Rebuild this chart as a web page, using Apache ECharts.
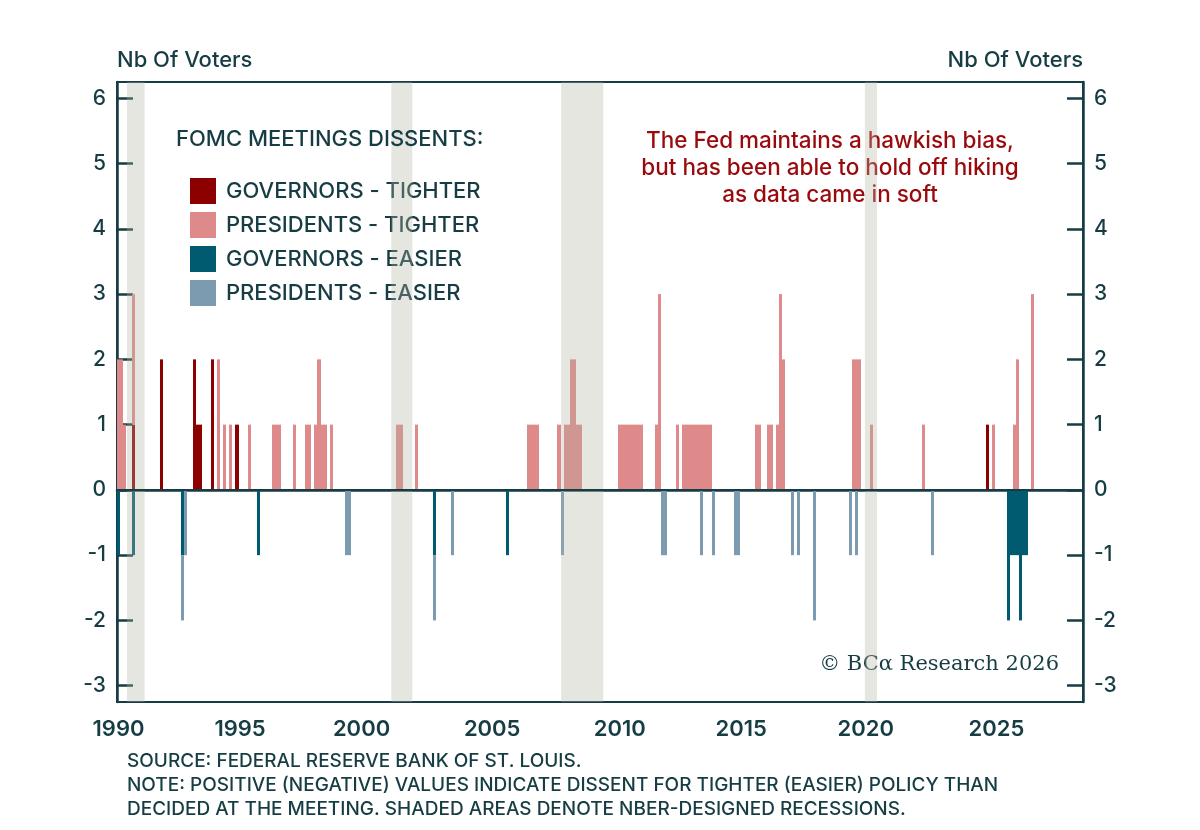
<!DOCTYPE html>
<html>
<head>
<meta charset="utf-8">
<script src="https://cdn.jsdelivr.net/npm/echarts@6/dist/echarts.min.js"></script>
<style>
  html, body { margin: 0; padding: 0; background: #fff; }
  #chart { width: 1200px; height: 830px; }
</style>
</head>
<body>
<div id="chart"></div>
<script>
// FOMC meeting slots per calendar year, 1990..2028 (x axis = one slot per meeting)
const firstYear = 1990;
const meetingsPerYear = [8, 8, 8, 8, 8, 8, 8, 8, 8, 8, 8, 11, 8, 8, 8, 8, 8, 8, 10, 8,
  8, 8, 8, 8, 8, 8, 8, 8, 8, 9, 11, 8, 8, 8, 8, 8, 8, 8, 5];

// dissents per meeting: [meeting slot, number of voters]
const govTighter = [[5, 1], [14, 2], [25, 2], [26, 1], [27, 1], [31, 2], [39, 1], [286, 1]];
const presTighter = [[0, 2], [1, 2], [2, 1], [5, 2], [33, 2], [35, 1], [37, 1], [43, 1],
  [51, 1], [52, 1], [53, 1], [58, 1], [62, 1], [63, 1], [65, 1], [66, 2], [67, 1], [68, 1],
  [70, 1], [92, 1], [93, 1], [98, 1], [135, 1], [136, 1], [137, 1], [138, 1], [145, 1],
  [147, 1], [148, 1], [149, 2], [150, 2], [151, 1], [152, 1],
  [165, 1], [166, 1], [167, 1], [168, 1], [169, 1], [170, 1], [171, 1], [172, 1],
  [177, 1], [178, 3], [184, 1],
  [186, 1], [187, 1], [188, 1], [189, 1], [190, 1], [191, 1], [192, 1], [193, 1], [194, 1], [195, 1],
  [210, 1], [211, 1], [214, 1], [215, 1], [217, 1], [218, 3], [219, 2],
  [242, 2], [243, 2], [244, 2], [248, 1], [265, 1], [288, 1], [295, 1], [296, 2], [301, 3]];
const govEasier = [[0, -1], [5, -1], [21, -1], [46, -1], [104, -1], [128, -1],
  [293, -2], [294, -1], [295, -1], [296, -1], [297, -2], [298, -1], [299, -1]];
const presEasier = [[21, -1], [22, -1], [75, -1], [76, -1], [104, -1], [110, -1], [146, -1],
  [179, -1], [180, -1], [192, -1], [196, -1], [203, -1], [204, -1], [222, -1], [224, -1],
  [229, -2], [241, -1], [243, -1], [268, -1]];

// NBER recessions, in meeting-slot units [start, end]
const recessions = [[3.3, 9.1], [90.3, 97.2], [146.2, 160.1], [246.2, 250.2]];

const yTicks = [-3, -2, -1, 0, 1, 2, 3, 4, 5, 6];
const seriesNames = ['GOVERNORS - TIGHTER', 'PRESIDENTS - TIGHTER', 'GOVERNORS - EASIER', 'PRESIDENTS - EASIER'];
const seriesColors = ['#8c0000', '#de8a8b', '#005a70', '#7d9bb0'];

const ink = '#173d44';
const font = 'Inter, "Open Sans", sans-serif';
const yMin = -3.25, yMax = 6.25;

const meetings = [];
meetingsPerYear.forEach((n, i) => {
  for (let k = 1; k <= n; k++) meetings.push((firstYear + i) + '-' + k);
});
const nSlots = meetings.length;

// presidents are stacked on top of (below) the governors at the same meeting
function stacked(pairs, basePairs) {
  const base = {};
  (basePairs || []).forEach(([s, v]) => { base[s] = v; });
  return pairs.map(([s, v]) => {
    const b = base[s] || 0;
    return [s, b, b + v];
  });
}
const rows = [
  stacked(govTighter),
  stacked(presTighter, govTighter),
  stacked(govEasier),
  stacked(presEasier, govEasier)
];

const isYearTick = (index, value) => value.endsWith('-1') && (+value.slice(0, 4)) % 5 === 0;

const valueAxis = (pos) => ({
  type: 'value',
  position: pos,
  min: yMin,
  max: yMax,
  splitLine: { show: false },
  axisLine: { show: true, lineStyle: { color: ink, width: 2.5 } },
  axisTick: { show: true, inside: true, length: 16, customValues: yTicks, lineStyle: { color: ink, width: 2.5 } },
  axisLabel: { customValues: yTicks, margin: 11, color: ink, fontSize: 21, fontFamily: font, fontWeight: 500 },
  name: 'Nb Of Voters',
  nameLocation: 'end',
  nameGap: 11,
  nameTextStyle: { align: pos, verticalAlign: 'bottom', color: ink, fontSize: 22, fontFamily: font, fontWeight: 500 }
});

// snap bar edges to whole pixels so neighbouring meetings join without seams
function renderBar(params, api) {
  const s = api.value(0);
  const p0 = api.coord([s, api.value(2)]);
  const p1 = api.coord([s + 1, api.value(1)]);
  const x0 = Math.round(p0[0]);
  const x1 = Math.round(p1[0]);
  return {
    type: 'rect',
    shape: { x: x0, y: Math.min(p0[1], p1[1]), width: Math.max(x1 - x0, 2), height: Math.abs(p1[1] - p0[1]) },
    style: api.style()
  };
}

function renderShade(params, api) {
  const p0 = api.coord([api.value(0), yMax]);
  const p1 = api.coord([api.value(1), yMin]);
  return {
    type: 'rect',
    shape: { x: p0[0], y: p0[1], width: p1[0] - p0[0], height: p1[1] - p0[1] },
    style: { fill: 'rgba(179,179,161,0.33)' }
  };
}

const chart = echarts.init(document.getElementById('chart'));

const option = {
  animation: false,
  textStyle: { fontFamily: font },
  grid: { left: 117, right: 117, top: 82, bottom: 128, show: true, borderColor: ink, borderWidth: 2, backgroundColor: 'transparent' },
  title: {
    text: 'FOMC MEETINGS DISSENTS:',
    left: 171, top: 123,
    textStyle: { color: ink, fontSize: 22, fontWeight: 500, fontFamily: font }
  },
  legend: {
    orient: 'vertical',
    left: 185, top: 173,
    itemWidth: 26, itemHeight: 26, itemGap: 8,
    icon: 'rect',
    data: seriesNames,
    textStyle: { color: ink, fontSize: 22, fontWeight: 500, fontFamily: font, padding: [0, 0, 0, 5] }
  },
  xAxis: [{
    type: 'category',
    data: meetings,
    boundaryGap: true,
    axisLine: { lineStyle: { color: ink, width: 2.5 } },
    axisTick: { inside: true, length: 16, interval: isYearTick, lineStyle: { color: ink, width: 2.5 } },
    axisLabel: { interval: isYearTick, formatter: v => v.slice(0, 4), margin: 16, color: ink, fontSize: 22, fontFamily: font, fontWeight: 600 }
  }, {
    type: 'value', min: 0, max: nSlots, show: false
  }],
  yAxis: [valueAxis('left'), valueAxis('right')],
  series: rows.map((r, i) => ({
    name: seriesNames[i],
    type: 'custom',
    xAxisIndex: 1,
    yAxisIndex: 0,
    data: r,
    encode: { x: 0, y: [1, 2] },
    itemStyle: { color: seriesColors[i] },
    renderItem: renderBar,
    silent: true,
    z: 3
  })).concat([{
    type: 'custom',
    xAxisIndex: 1,
    yAxisIndex: 0,
    z: 4,
    silent: true,
    data: recessions,
    encode: { x: [0, 1] },
    renderItem: renderShade
  }, {
    type: 'line',
    xAxisIndex: 1,
    yAxisIndex: 0,
    data: [[0, 0], [nSlots, 0]],
    symbol: 'none',
    silent: true,
    lineStyle: { color: ink, width: 2 },
    z: 5
  }]),
  graphic: [{
    type: 'text', x: 830, y: 128,
    style: {
      text: 'The Fed maintains a hawkish bias,\nbut has been able to hold off hiking\nas data came in soft',
      fill: '#9a0a0d', fontSize: 22.5, fontWeight: 500, fontFamily: font,
      align: 'center', verticalAlign: 'top', lineHeight: 27
    }
  }, {
    type: 'text', x: 1059, y: 654,
    style: { text: '\u00a9 BC\u03b1 Research 2026', fill: ink, fontSize: 21, fontFamily: '"DejaVu Serif", "Liberation Serif", serif', align: 'right', verticalAlign: 'top' }
  }, {
    type: 'text', x: 127, y: 749,
    style: {
      text: 'SOURCE: FEDERAL RESERVE BANK OF ST. LOUIS.\nNOTE: POSITIVE (NEGATIVE) VALUES INDICATE DISSENT FOR TIGHTER (EASIER) POLICY THAN\nDECIDED AT THE MEETING. SHADED AREAS DENOTE NBER-DESIGNED RECESSIONS.',
      fill: ink, fontSize: 19, fontWeight: 500, fontFamily: font, lineHeight: 24, verticalAlign: 'top'
    }
  }]
};

chart.setOption(option);
</script>
</body>
</html>
